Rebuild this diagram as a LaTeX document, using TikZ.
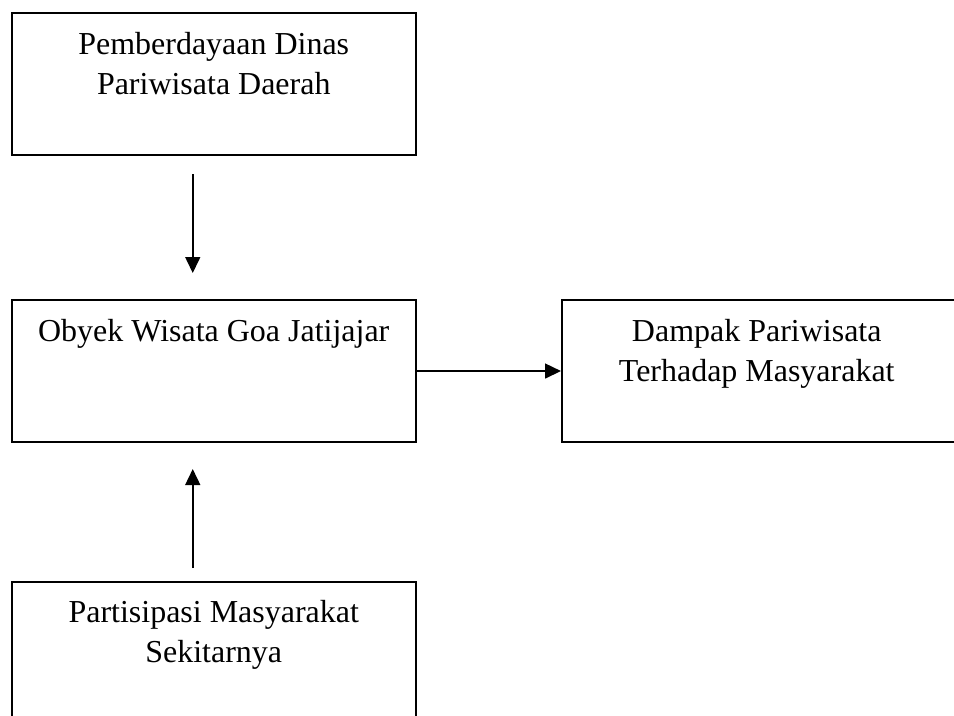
\documentclass[tikz,border=0pt]{standalone}
\usepackage{fontspec}
\setmainfont{Liberation Serif}
\usetikzlibrary{arrows.meta,positioning}

\begin{document}
\begin{tikzpicture}[x=0.02cm,y=-0.02cm,
	kotak/.style={draw,rectangle,line width=0.9pt,anchor=north west,inner sep=0,
		minimum width=8.08cm,minimum height=2.85cm},
	isi/.style={anchor=base,align=center,font=\fontsize{18.2}{22.8}\selectfont},
	panah/.style={-{Triangle[length=0.32cm,width=0.3cm]},line width=0.9pt}]
			\useasboundingbox (0,0) rectangle (954,716);
			
			% Boxes
			\node[kotak] (dinas) at (11,12) {};
			\node[kotak] (obyek) at (11,299) {};
			\node[kotak,minimum width=7.9cm] (dampak) at (561,299) {};
			\node[kotak,minimum height=3.4cm] (partisipasi) at (11,581) {};
			
			% Texts (base = last line)
			\node[isi] (dinas-t) at ([yshift=-1.66cm]dinas.north) {Pemberdayaan Dinas\\Pariwisata Daerah};
			\node[isi] (obyek-t) at ([yshift=-0.85cm]obyek.north) {Obyek Wisata Goa Jatijajar};
			\node[isi] (dampak-t) at ([xshift=-0.05cm,yshift=-1.66cm]dampak.north) {Dampak Pariwisata\\Terhadap Masyarakat};
			\node[isi] (partisipasi-t) at ([yshift=-1.63cm]partisipasi.north) {Partisipasi Masyarakat\\Sekitarnya};
			
			% Arrows
			\draw[panah] ([xshift=-0.42cm,yshift=-0.36cm]dinas.south) -- ([xshift=-0.42cm,yshift=0.52cm]obyek.north);
			\draw[panah] ([xshift=-0.42cm,yshift=0.26cm]partisipasi.north) -- ([xshift=-0.42cm,yshift=-0.52cm]obyek.south);
			\draw[panah] (obyek.east) -- (dampak.west);
		\end{tikzpicture}
\end{document}
